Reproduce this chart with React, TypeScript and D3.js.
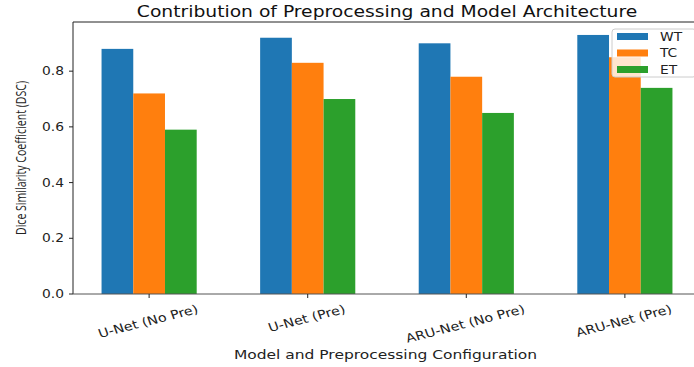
import React from "react";
import * as d3 from "d3";

const categories = ["U-Net (No Pre)", "U-Net (Pre)", "ARU-Net (No Pre)", "ARU-Net (Pre)"];
const seriesNames = ["WT", "TC", "ET"];
const wtValues = [0.88, 0.92, 0.90, 0.93];
const tcValues = [0.72, 0.83, 0.78, 0.85];
const etValues = [0.59, 0.70, 0.65, 0.74];
const yTicks = [0.0, 0.2, 0.4, 0.6, 0.8];
const colors = ["#1f77b4", "#ff7f0e", "#2ca02c"];

const W = 694;
const H = 367;
const SX = 1.2; // horizontal stretch of the original picture
const FONT = "DejaVu Sans, sans-serif";
const TICK_FS = 12;
const ROT = 17;

function measure(text: string, size: number): number {
  try {
    const ctx = document.createElement("canvas").getContext("2d");
    if (ctx) {
      ctx.font = `${size}px "DejaVu Sans"`;
      return ctx.measureText(text).width;
    }
  } catch (e) {}
  return text.length * size * 0.6;
}

export default function App() {
  const series = [wtValues, tcValues, etValues];
  const left = 73, right = 701, top = 22, bottom = 294;
  const x = d3.scaleLinear().domain([-0.48, 3.48]).range([left, right]);
  const y = d3.scaleLinear().domain([0, 0.9765]).range([bottom, top]);
  const bw = 0.2;
  const rad = (ROT * Math.PI) / 180;
  const labelTop = 303;

  return (
    <svg width={W} height={H} style={{ position: "absolute", left: 0, top: 0, background: "#fff" }}>
      <rect x={0} y={0} width={W} height={H} fill="#fff" />
      {series.map((vals, si) =>
        vals.map((v, ci) => {
          const cx = ci + (si - 1) * bw;
          const x0 = x(cx - bw / 2);
          const x1 = x(cx + bw / 2);
          return (
            <rect key={`${si}-${ci}`} x={x0} y={y(v)} width={x1 - x0} height={y(0) - y(v)} fill={colors[si]} />
          );
        })
      )}
      {/* spines */}
      <line x1={left} x2={left} y1={top} y2={bottom} stroke="#222" strokeWidth={1} />
      <line x1={left} x2={W} y1={top} y2={top} stroke="#222" strokeWidth={1} />
      <line x1={left} x2={W} y1={bottom} y2={bottom} stroke="#555" strokeWidth={1} />
      {/* y ticks */}
      {yTicks.map((t) => (
        <g key={t}>
          <line x1={left - 4} x2={left} y1={y(t)} y2={y(t)} stroke="#222" strokeWidth={1} />
          <g transform={`translate(${left - 9},${y(t)}) scale(${SX},1)`}>
            <text textAnchor="end" dominantBaseline="central" fontFamily={FONT} fontSize={11.5} fill="#222">
              {t.toFixed(1)}
            </text>
          </g>
        </g>
      ))}
      {/* x ticks */}
      {categories.map((c, i) => {
        const L = measure(c, TICK_FS);
        const ext = L * Math.sin(rad) + TICK_FS * 1.0 * Math.cos(rad);
        const cy = labelTop + ext / 2;
        return (
          <g key={c}>
            <line x1={x(i)} x2={x(i)} y1={bottom} y2={bottom + 4} stroke="#222" strokeWidth={1} />
            <g transform={`translate(${x(i) - 1},${cy}) scale(${SX},1) rotate(${-ROT})`}>
              <text textAnchor="middle" dominantBaseline="central" fontFamily={FONT} fontSize={TICK_FS} fill="#222">
                {c}
              </text>
            </g>
          </g>
        );
      })}
      {/* title */}
      <g transform={`translate(${(left + right) / 2},17) scale(${SX},1)`}>
        <text textAnchor="middle" fontFamily={FONT} fontSize={15.6} fill="#111">
          Contribution of Preprocessing and Model Architecture
        </text>
      </g>
      {/* x label */}
      <g transform={`translate(${(left + right) / 2 - 1.5},359) scale(${SX},1)`}>
        <text textAnchor="middle" fontFamily={FONT} fontSize={12.9} fill="#222">
          Model and Preprocessing Configuration
        </text>
      </g>
      {/* y label */}
      <g transform={`translate(25.5,${(top + bottom) / 2}) rotate(-90)`}>
        <text textAnchor="middle" fontFamily="Open Sans, sans-serif" fontSize={15} fill="#222" textLength={154} lengthAdjust="spacingAndGlyphs">
          Dice Similarity Coefficient (DSC)
        </text>
      </g>
      {/* legend */}
      <rect x={612} y={29} width={84} height={48} rx={3} fill="#fff" fillOpacity={0.8} stroke="#ccc" strokeWidth={1} />
      {seriesNames.map((n, i) => (
        <g key={n}>
          <rect x={617} y={33 + i * 16.5} width={31} height={7} fill={colors[i]} />
          <g transform={`translate(660,${36.5 + i * 16.5}) scale(${SX},1)`}>
            <text dominantBaseline="central" fontFamily={FONT} fontSize={11.5} fill="#222">
              {n}
            </text>
          </g>
        </g>
      ))}
    </svg>
  );
}
